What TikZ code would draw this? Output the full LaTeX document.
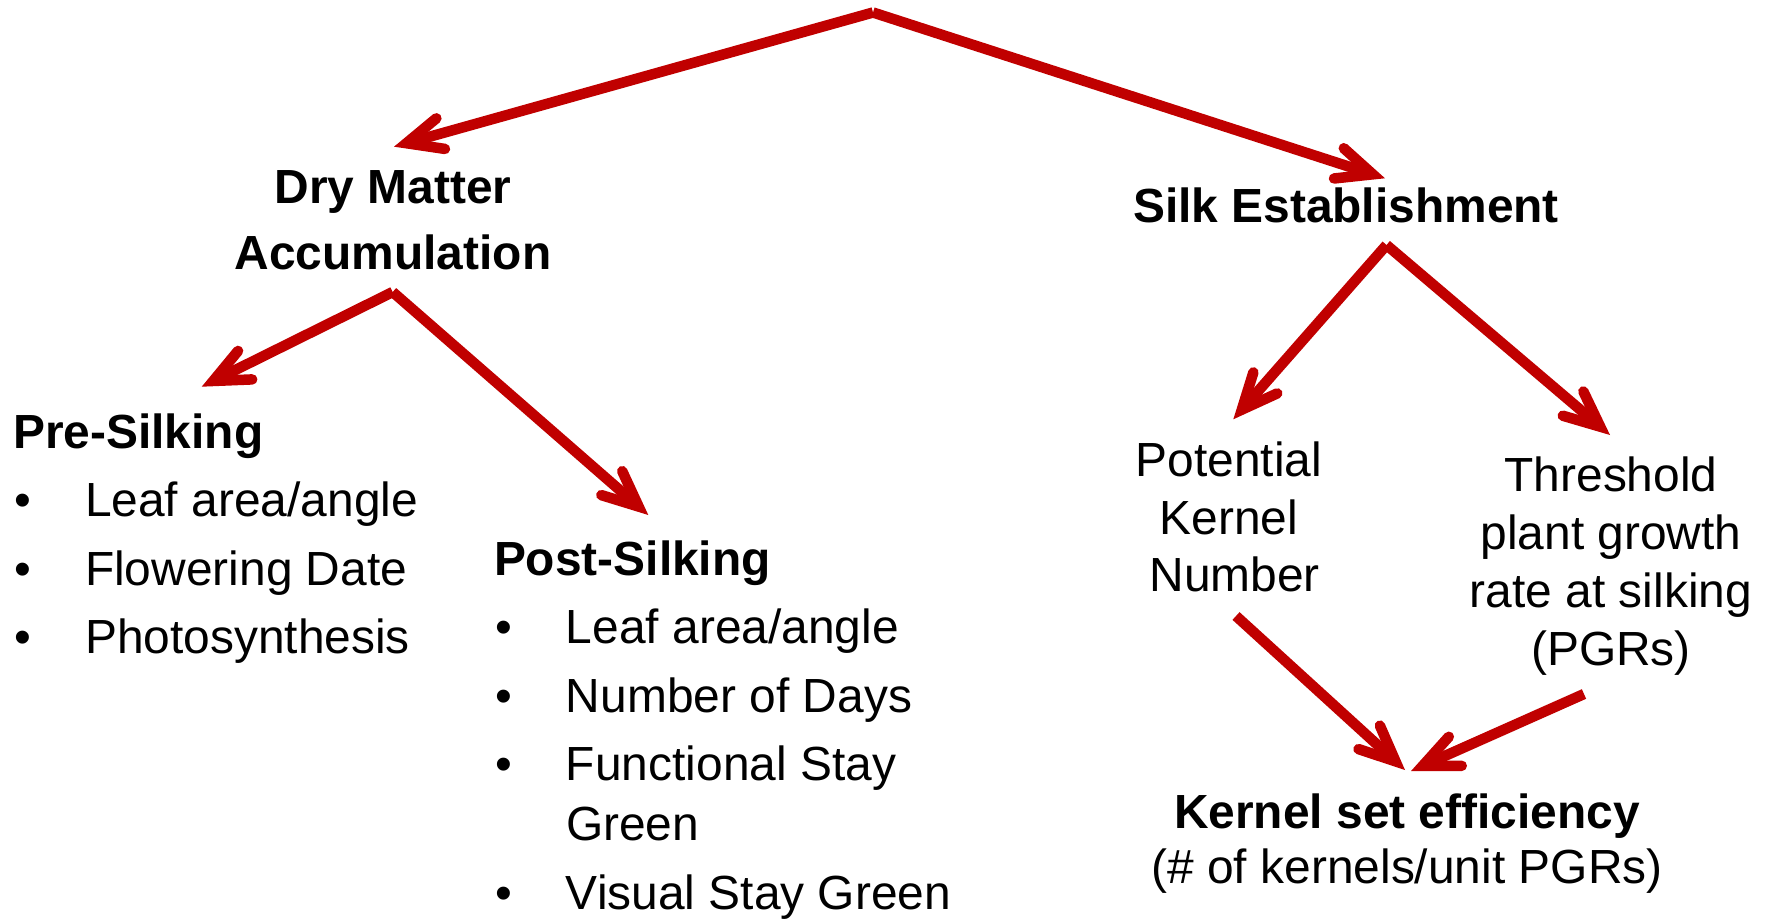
\documentclass[tikz,border=0pt]{standalone}
\usepackage{fontspec}
\setmainfont{Liberation Sans}
\usetikzlibrary{arrows.meta,calc}
\definecolor{arrowred}{RGB}{192,0,0}
% stacked lines, first baseline is the box baseline
\newcommand\centredlines[2]{\vtop{\baselineskip=#1\relax\halign{\hfil##\hfil\cr#2\crcr}}}
\newcommand\leftlines[2]{\vtop{\baselineskip=#1\relax\halign{##\hfil\cr#2\crcr}}}
\newcommand\itembul{\makebox[36pt][l]{\hspace{0.5pt}\textbullet}}
\begin{document}
\begin{tikzpicture}[x=0.5pt,y=-0.5pt,
  txt/.style={inner sep=0pt, font=\fontsize{23.95pt}{28pt}\selectfont},
  link/.style={draw=arrowred, line width=5.25pt, line cap=butt,
    -{Straight Barb[length=17.8pt,width=15.9pt,line cap=round,line join=miter]}}]
\useasboundingbox (0,0) rectangle (1770,919);

% headings and text blocks
\node[txt, anchor=base] (dm) at (393,203.3)
  {\centredlines{33.35pt}{\textbf{Dry Matter}\cr \textbf{Accumulation}}};
\node[txt, anchor=base] (silk) at (1346,222.7) {\textbf{Silk Establishment}};

\node[txt, anchor=base west] (pre) at (12.7,448)
  {\leftlines{34.3pt}{\textbf{Pre-Silking}\cr
   \itembul Leaf area/angle\cr
   \itembul Flowering Date\cr
   \itembul Photosynthesis}};

\node[txt, anchor=base west] (post) at (493.6,575)
  {\leftlines{34.25pt}{\textbf{Post-Silking}\cr
   \itembul Leaf area/angle\cr
   \itembul Number of Days\cr
   \itembul Functional Stay\cr
   \noalign{\vskip-4.25pt}
   \hspace{36pt}Green\cr
   \itembul Visual Stay Green}};

\node[txt, anchor=base] (pkn) at (1229,476.7)
  {\centredlines{28.75pt}{Potential\cr Kernel\cr \hspace{5.6pt}Number}};
\node[txt, anchor=base] (thr) at (1611,491.7)
  {\centredlines{28.9pt}{Threshold\cr plant growth\cr rate at silking\cr (PGRs)}};
\node[txt, anchor=base] (kse) at (1407,828)
  {\centredlines{27.5pt}{\textbf{Kernel set efficiency}\cr (\# of kernels/unit PGRs)}};

% branching points
\coordinate (top) at (873,12.5);
\coordinate (dmfork) at ($(dm.base)+(-0.3,88.7)$);
\coordinate (silkfork) at ($(silk.base)+(40.5,22.3)$);

% arrows
\draw[link] (top) -- ($(dm.base)+(1,-56.6)$);
\draw[link] (top) -- ($(silk.base)+(39,-44.4)$);
\draw[link] (dmfork) -- ($(pre.base west)+(189,-61.3)$);
\draw[link] (dmfork) -- ($(post.base west)+(154.7,-60)$);
\draw[link] (silkfork) -- ($(pkn.base)+(4.3,-57.4)$);
\draw[link] (silkfork) -- ($(thr.base)+(-1,-56.7)$);
\draw[link] ($(pkn.base)+(7,139.3)$) -- ($(kse.base)+(-2,-58)$);
\draw[link] ($(thr.base)+(-27,202.3)$) -- ($(kse.base)+(4,-57)$);
\end{tikzpicture}
\end{document}
